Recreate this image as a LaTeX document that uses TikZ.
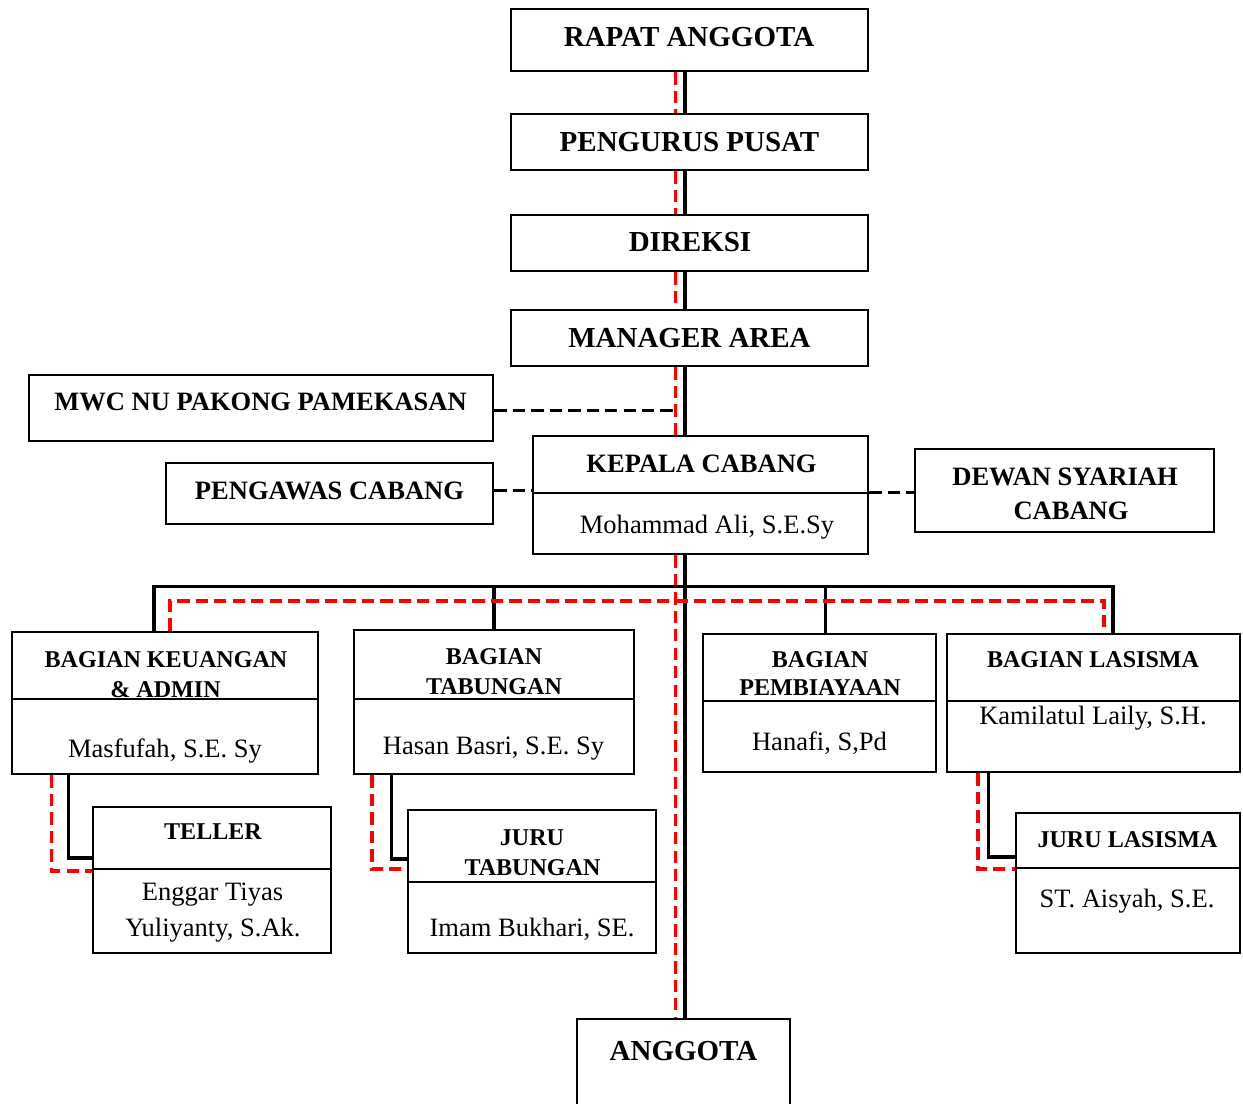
\documentclass[tikz,border=0pt]{standalone}
\usepackage{fontspec}
\setmainfont{Liberation Serif}
\usetikzlibrary{fit}
\begin{document}
\begin{tikzpicture}[x=0.02cm,y=-0.02cm,
 box/.style={draw,line width=1.6pt,inner sep=0pt},
 div/.style={line width=1.2pt},
 conn/.style={line width=2pt},
 rdash/.style={red, line width=2.1pt, dash pattern=on 7pt off 3.5pt},
 kdash/.style={black, line width=2pt, dash pattern=on 7pt off 3.5pt},
 tA/.style={font=\fontsize{16.5pt}{19pt}\selectfont\bfseries, anchor=base, inner sep=0pt},
 tB/.style={font=\fontsize{15.1pt}{18pt}\selectfont\bfseries, anchor=base, inner sep=0pt},
 tC/.style={font=\fontsize{13.7pt}{16pt}\selectfont\bfseries, anchor=base, inner sep=0pt},
 nm/.style={font=\fontsize{15.1pt}{18pt}\selectfont, anchor=base, inner sep=0pt},
]
\useasboundingbox (0,0) rectangle (1243,1104);

% boxes
\node[box, fit={(511,9) (868,71)}] (rap) {};
\node[box, fit={(511,114) (868,170)}] (pen) {};
\node[box, fit={(511,215) (868,271)}] (dir) {};
\node[box, fit={(511,310) (868,366)}] (man) {};
\node[box, fit={(29,375) (493,441)}] (mwc) {};
\node[box, fit={(533,436) (868,554)}] (kep) {};
\node[box, fit={(166,463) (493,524)}] (pgw) {};
\node[box, fit={(915,449) (1214,532)}] (dew) {};
\node[box, fit={(12,632) (318,774)}] (keu) {};
\node[box, fit={(354,630) (634,774)}] (tab) {};
\node[box, fit={(703,634) (936,772)}] (pem) {};
\node[box, fit={(947,634) (1240,772)}] (las) {};
\node[box, fit={(93,807) (331,953)}] (tel) {};
\node[box, fit={(408,810) (656,953)}] (jtb) {};
\node[box, fit={(1016,813) (1240,953)}] (jls) {};
\begin{scope}
\clip (0,0) rectangle (1243,1104);
\node[box, fit={(577,1019) (790,1140)}] (ang) {};
\end{scope}

% dividers
\draw[div] (533,493) -- (868,493);
\draw[div] (12,699) -- (318,699);
\draw[div] (354,699) -- (634,699);
\draw[div] (703,701) -- (936,701);
\draw[div] (947,701) -- (1240,701);
\draw[div] (93,869) -- (331,869);
\draw[div] (408,882) -- (656,882);
\draw[div] (1016,868) -- (1240,868);

% texts
\node[tA] (t1) at (689,47) {RAPAT ANGGOTA};
\node[tA] (t2) at (689.5,152) {PENGURUS PUSAT};
\node[tA] (t3) at (690,252) {DIREKSI};
\node[tA] (t4) at (689.5,348) {MANAGER AREA};
\node[tB] (t5) at (260.5,411) {MWC NU PAKONG PAMEKASAN};
\node[tB] (t6) at (701.5,472) {KEPALA CABANG};
\node[nm] (t7) at (707,533) {Mohammad Ali, S.E.Sy};
\node[tB] (t8) at (329.5,499) {PENGAWAS CABANG};
\node[tB] (t9) at (1065,485) {DEWAN SYARIAH};
\node[tB] (t10) at (1071,519) {CABANG};
\node[tC] (t11) at (166,667) {BAGIAN KEUANGAN};
\node[tC] (t12) at (165.5,697) {\& ADMIN};
\node[nm] (t13) at (165,757) {Masfufah, S.E. Sy};
\node[tC] (t14) at (494,664) {BAGIAN};
\node[tC] (t15) at (494,694) {TABUNGAN};
\node[nm] (t16) at (493.5,754) {Hasan Basri, S.E. Sy};
\node[tC] (t17) at (820,667) {BAGIAN};
\node[tC] (t18) at (820,695) {PEMBIAYAAN};
\node[nm] (t19) at (819.5,750) {Hanafi, S,Pd};
\node[tC] (t20) at (1093,667) {BAGIAN LASISMA};
\node[nm] (t21) at (1093,724) {Kamilatul Laily, S.H.};
\node[tC] (t22) at (213,839) {TELLER};
\node[nm] (t23) at (212.5,900) {Enggar Tiyas};
\node[nm] (t24) at (213,936) {Yuliyanty, S.Ak.};
\node[tC] (t25) at (532,845) {JURU};
\node[tC] (t26) at (532.5,875) {TABUNGAN};
\node[nm] (t27) at (532,936) {Imam Bukhari, SE.};
\node[tC] (t28) at (1127.5,847) {JURU LASISMA};
\node[nm] (t29) at (1127,907) {ST. Aisyah, S.E.};
\node[tA] (t30) at (683.5,1060) {ANGGOTA};

% helper coordinates
\coordinate (bx) at (685,0);
\coordinate (rx) at (675.5,0);
\coordinate (busL) at (154,586.5);
\coordinate (busR) at (1113,586.5);
\coordinate (pemx) at (825.5,0);
\coordinate (rL) at (170,601);
\coordinate (rR) at (1104,601);
\coordinate (k1) at (68.5,858);
\coordinate (k2) at (51.5,871);
\coordinate (b1) at (391.5,859);
\coordinate (b2) at (372,869);
\coordinate (l1) at (988.5,857);
\coordinate (l2) at (978,869);

% red dashed main line
\draw[rdash] (rap.south -| rx) -- (pen.north -| rx);
\draw[rdash] (pen.south -| rx) -- (dir.north -| rx);
\draw[rdash] (dir.south -| rx) -- (man.north -| rx);
\draw[rdash] (man.south -| rx) -- (kep.north -| rx);
\draw[rdash] (kep.south -| rx) -- (ang.north -| rx);

% black main line
\draw[conn] (rap.south -| bx) -- (pen.north -| bx);
\draw[conn] (pen.south -| bx) -- (dir.north -| bx);
\draw[conn] (dir.south -| bx) -- (man.north -| bx);
\draw[conn] (man.south -| bx) -- (kep.north -| bx);
\draw[conn] (kep.south -| bx) -- (ang.north -| bx);

% side dashed
\draw[kdash] (mwc.east |- 0,410.5) -- (rx |- 0,410.5);
\draw[kdash] (pgw.east |- 0,490.5) -- (kep.west |- 0,490.5);
\draw[kdash] (kep.east |- 0,492.5) -- (dew.west |- 0,492.5);

% bus
\draw[conn] (keu.north -| busL) -- (busL) -- (busR) -- (las.north -| busR);
\draw[conn] (tab.north) -- (tab.north |- busL);
\draw[conn] (pem.north -| pemx) -- (pemx |- busL);
\draw[rdash] (keu.north -| rL) -- (rL) -- (rR) -- (las.north -| rR);

% sub connectors
\draw[conn] (keu.south -| k1) -- (k1) -- (tel.west |- k1);
\draw[rdash] (keu.south -| k2) -- (k2) -- (tel.west |- k2);
\draw[conn] (tab.south -| b1) -- (b1) -- (jtb.west |- b1);
\draw[rdash] (tab.south -| b2) -- (b2) -- (jtb.west |- b2);
\draw[conn] (las.south -| l1) -- (l1) -- (jls.west |- l1);
\draw[rdash] (las.south -| l2) -- (l2) -- (jls.west |- l2);
\end{tikzpicture}
\end{document}
